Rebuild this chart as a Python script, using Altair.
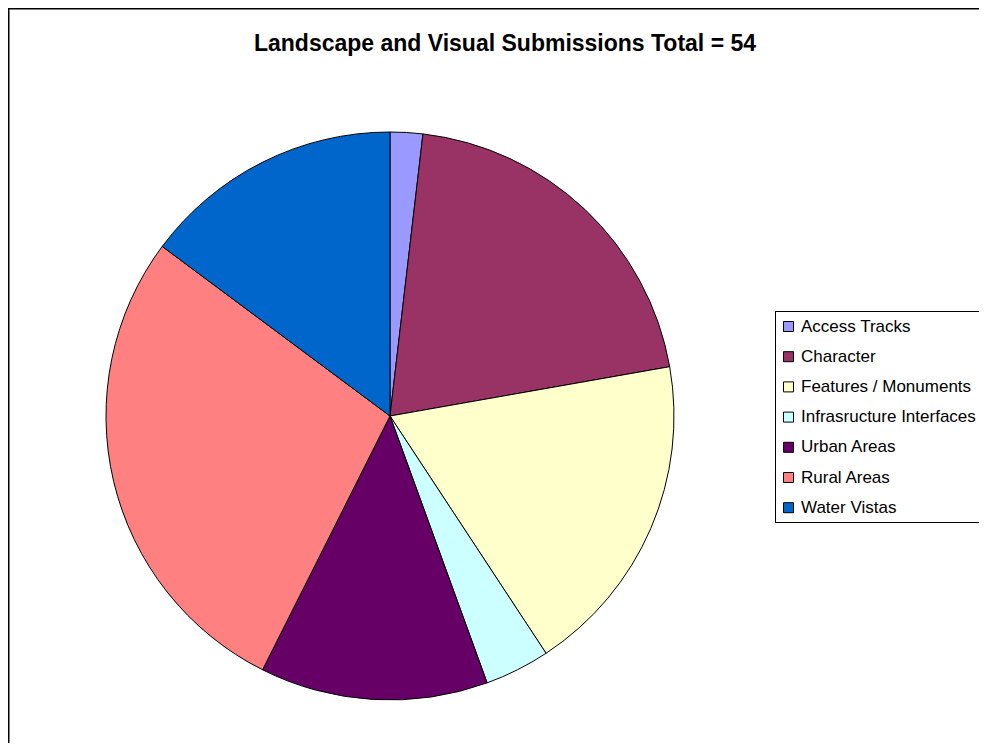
import altair as alt
import pandas as pd

categories = ["Access Tracks", "Character", "Features / Monuments", "Infrasructure Interfaces",
              "Urban Areas", "Rural Areas", "Water Vistas"]
values = [1, 11, 10, 2, 7, 15, 8]
colors = ["#9999FF", "#993366", "#FFFFCC", "#CCFFFF", "#660066", "#FF8080", "#0066CC"]
title_text = "Landscape and Visual Submissions Total = 54"

W, H = 971, 735

df = pd.DataFrame({"category": categories, "value": values, "order": list(range(len(categories)))})

pie = alt.Chart(df).mark_arc(stroke="black", strokeWidth=1, outerRadius=284).encode(
    theta=alt.Theta("value:Q", stack=True),
    order=alt.Order("order:Q"),
    color=alt.Color(
        "category:N",
        sort=categories,
        scale=alt.Scale(domain=categories, range=colors),
        legend=alt.Legend(
            title=None,
            orient="none",
            legendX=766,
            legendY=304,
            symbolType="square",
            symbolSize=100,
            symbolStrokeColor="black",
            symbolStrokeWidth=1,
            labelFont="Liberation Sans",
            labelFontSize=17,
            labelColor="black",
            labelLimit=400,
            labelOffset=4,
            rowPadding=12.2,
            padding=6,
            cornerRadius=0,
        ),
    ),
    x=alt.value(382),
    y=alt.value(408),
)

title = alt.Chart(pd.DataFrame({"t": [title_text]})).mark_text(
    font="Liberation Sans", fontSize=23, fontWeight="bold", color="black", align="center", baseline="alphabetic"
).encode(text="t:N", x=alt.value(497), y=alt.value(42.5))

frame_df = pd.DataFrame({"a": [0]})
top_line = alt.Chart(frame_df).mark_rule(color="black", strokeWidth=2).encode(
    x=alt.value(0), x2=alt.value(W), y=alt.value(0.5)
)
left_line = alt.Chart(frame_df).mark_rule(color="black", strokeWidth=2).encode(
    x=alt.value(0.5), y=alt.value(0), y2=alt.value(H)
)
# legend box (open on the right, as in the reference where it runs off the edge)
leg_top = alt.Chart(frame_df).mark_rule(color="black", strokeWidth=1).encode(
    x=alt.value(767), x2=alt.value(W), y=alt.value(303.5)
)
leg_bottom = alt.Chart(frame_df).mark_rule(color="black", strokeWidth=1).encode(
    x=alt.value(767), x2=alt.value(W), y=alt.value(514.5)
)
leg_left = alt.Chart(frame_df).mark_rule(color="black", strokeWidth=1).encode(
    x=alt.value(767.5), y=alt.value(303.5), y2=alt.value(514.5)
)

chart = alt.layer(pie, title, top_line, left_line, leg_top, leg_bottom, leg_left).properties(
    width=W, height=H, padding=0, autosize=alt.AutoSizeParams(type="none")
).configure_view(stroke=None)

chart.save("out.html", embed_options={"renderer": "svg", "actions": False})
